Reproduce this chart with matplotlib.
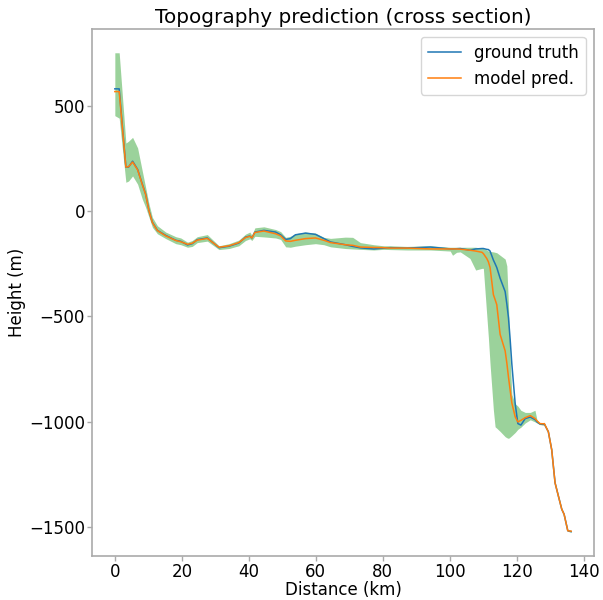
import numpy as np
import matplotlib
matplotlib.use('Agg')
import matplotlib.pyplot as plt

# distance along the section (km)
dist = [0.0, 1.3, 3.3, 4.1, 5.3, 6.8, 8.2, 9.2, 10.2, 11.2, 12.7, 15.2, 18.2, 19.7,
        21.7, 23.1, 24.6, 27.6, 31.1, 34.1, 37.0, 39.0, 40.3, 40.9, 41.8, 44.5,
        48.0, 49.5, 51.0, 52.4, 53.9, 56.9, 59.9, 62.4, 64.4, 68.8, 71.0, 73.3,
        77.3, 80.2, 82.2, 87.2, 94.2, 100.1, 100.8, 102.0, 103.1, 106.0, 107.7,
        109.6, 110.0, 111.0, 111.5, 112.0, 113.0, 113.5, 114.0, 115.0, 116.5,
        117.0, 117.5, 118.0, 118.5, 119.5, 120.3, 121.2, 122.5, 124.0, 125.4,
        126.0, 126.9, 127.9, 128.2, 129.4, 130.4, 131.4, 132.4, 133.4, 134.1,
        135.2, 136.2]

truth = [579, 579, 208, 208, 236, 197, 127, 80, 1, -53, -92, -116, -139, -144,
         -161, -155, -136, -128, -174, -167, -152, -124, -119, -128, -100, -92,
         -100, -113, -135, -131, -113, -105, -111, -131, -147, -160, -168, -175,
         -180, -176, -174, -176, -171, -180, -180, -179, -178, -186, -180,
         -178, -178, -182, -183, -190, -233, -250, -268, -319, -382,
         -440, -507, -610, -726, -914, -1008, -1015, -984, -977, -989,
         -1000, -1010, -1012, -1010, -1047, -1132, -1289, -1352, -1414, -1438,
         -1516, -1520]

pred = [566, 566, 208, 210, 232, 195, 125, 78, 0, -55, -93, -118, -140, -146,
        -158, -153, -138, -130, -172, -165, -150, -126, -120, -128, -102, -95,
        -108, -118, -142, -144, -139, -131, -128, -139, -150, -160, -163, -171,
        -173, -174, -176, -176, -180, -180, -180, -180, -181, -186, -190,
        -196, -202, -225, -241, -268, -397, -420, -444, -585, -663,
        -720, -788, -850, -910, -976, -1000, -993, -980, -970, -984,
        -995, -1008, -1009, -1008, -1047, -1132, -1289, -1352, -1414, -1438,
        -1516, -1518]

lower = [452, 440, 136, 142, 166, 127, 56, 17, -30, -77, -108, -131, -155, -160,
         -172, -168, -150, -143, -183, -178, -165, -140, -132, -140, -120, -123,
         -128, -135, -170, -172, -167, -160, -155, -160, -170, -178, -180, -182,
         -185, -182, -183, -185, -185, -190, -210, -196, -194, -225, -280,
         -272, -272, -491, -600, -726, -945, -1023, -1030, -1045, -1070,
         -1075, -1078, -1072, -1065, -1050, -1035, -1025, -1005, -990, -1000,
         -1005, -1013, -1015, -1013, -1050, -1135, -1292, -1355, -1417, -1441,
         -1519, -1523]

upper = [750, 750, 322, 331, 349, 299, 189, 111, 33, -30, -70, -100, -122, -128,
         -148, -140, -122, -112, -165, -155, -138, -110, -100, -115, -80, -75,
         -88, -98, -125, -120, -108, -100, -105, -125, -130, -124, -125, -150,
         -160, -165, -165, -168, -165, -172, -172, -172, -172, -172, -172,
         -176, -178, -185, -190, -192, -194, -196, -198, -210, -228,
         -260, -450, -700, -870, -914, -925, -945, -955, -955, -945,
         -990, -1005, -1006, -1005, -1044, -1129, -1286, -1349, -1411, -1435,
         -1513, -1515]

plt.rcParams['font.size'] = 12

fig = plt.figure(figsize=(6.03, 6.0), dpi=100)
ax = fig.add_axes([0.1526, 0.073, 0.8324, 0.879])

ax.fill_between(dist, lower, upper, color='tab:green', alpha=0.47, linewidth=0)
ax.plot(dist, truth, color='tab:blue', linewidth=1.1, label='ground truth')
ax.plot(dist, pred, color='tab:orange', linewidth=1.1, label='model pred.')

ax.set_title('Topography prediction (cross section)', pad=4)
ax.set_xlabel('Distance (km)', labelpad=0)
ax.set_ylabel('Height (m)', labelpad=2)
ax.set_xticks(np.arange(0, 141, 20))
ax.set_yticks([500, 0, -500, -1000, -1500])

for s in ax.spines.values():
    s.set_color('#aaaaaa')
    s.set_linewidth(1.2)
ax.tick_params(color='#aaaaaa', width=1.0, length=3.5, pad=1.5)

ax.legend(loc='upper right')

fig.savefig('out.png', dpi=100)
